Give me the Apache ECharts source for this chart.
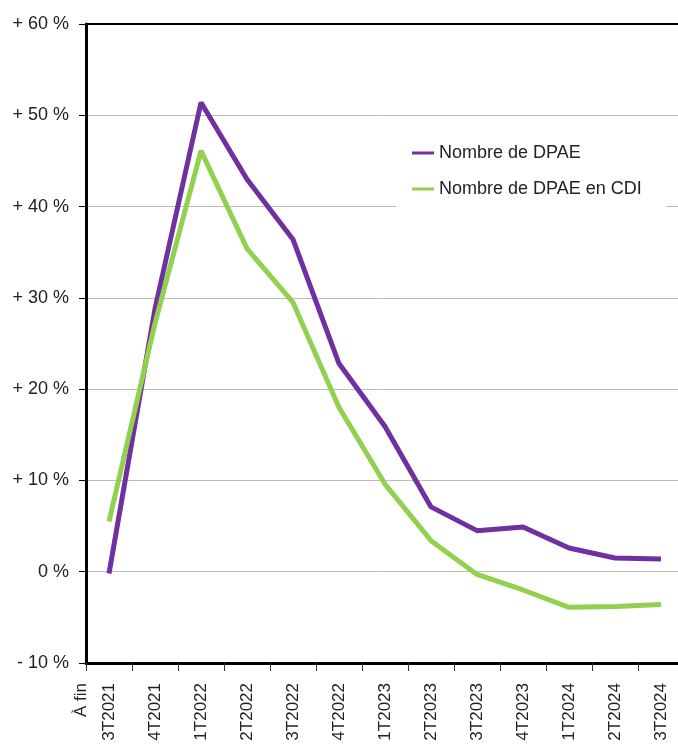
<!DOCTYPE html>
<html>
<head>
<meta charset="utf-8">
<script src="https://cdn.jsdelivr.net/npm/echarts@6/dist/echarts.min.js"></script>
<style>html,body{margin:0;padding:0;background:#fff}#c{width:678px;height:744px}</style>
</head>
<body>
<div id="c"></div>
<script>
const categories = ['3T2021','4T2021','1T2022','2T2022','3T2022','4T2022','1T2023','2T2023','3T2023','4T2023','1T2024','2T2024','3T2024'];
const dpae = [-0.2, 28.8, 51.4, 43.0, 36.4, 22.8, 15.9, 7.1, 4.5, 4.9, 2.6, 1.5, 1.4];
const dpaeCdi = [5.5, 27.2, 46.1, 35.4, 29.5, 18.0, 9.6, 3.4, -0.3, -2.0, -3.9, -3.8, -3.6];
const seriesNames = ['Nombre de DPAE', 'Nombre de DPAE en CDI'];
const startLabel = 'À fin';

const chart = echarts.init(document.getElementById('c'), null, {renderer: 'canvas'});
const font = '"Liberation Sans", Arial, sans-serif';
chart.setOption({
  animation: false,
  backgroundColor: '#fff',
  grid: {left: 86, width: 598, top: 24, bottom: 81, containLabel: false, outerBoundsMode: 'none'},
  legend: {
    orient: 'vertical',
    left: 396, top: 138,
    padding: [6, 24, 12, 16],
    backgroundColor: '#fff',
    itemGap: 18,
    itemWidth: 22, itemHeight: 3,
    icon: 'rect',
    textStyle: {fontFamily: font, fontSize: 18, color: '#222'},
    data: seriesNames
  },
  xAxis: [{
    type: 'category',
    data: categories,
    boundaryGap: true,
    axisLine: {onZero: false, lineStyle: {color: '#000', width: 3}},
    axisTick: {show: true, length: 8, inside: false, lineStyle: {color: '#333', width: 1}},
    axisLabel: {rotate: 90, fontFamily: font, fontSize: 17, color: '#222', margin: 20}
  }, {
    type: 'category',
    position: 'top',
    data: categories,
    axisLine: {onZero: false, lineStyle: {color: '#000', width: 2}},
    axisTick: {show: false},
    axisLabel: {show: false}
  }],
  yAxis: {
    type: 'value',
    min: -10, max: 60, interval: 10,
    axisLine: {show: true, lineStyle: {color: '#000', width: 3}},
    axisTick: {show: true, length: 7, lineStyle: {color: '#000', width: 1}},
    splitLine: {show: true, lineStyle: {color: '#bbb', width: 1}},
    axisLabel: {
      fontFamily: font, fontSize: 18, color: '#222', margin: 17,
      formatter: v => v > 0 ? '+ ' + v + ' %' : (v < 0 ? '- ' + Math.abs(v) + ' %' : '0 %')
    }
  },
  graphic: [{
    type: 'text',
    x: 81, y: 683,
    rotation: Math.PI / 2,
    style: {text: startLabel, font: '17px ' + font, fill: '#222', align: 'right', verticalAlign: 'middle'}
  }],
  series: [{
    name: seriesNames[0], type: 'line', data: dpae,
    symbol: 'none', lineStyle: {color: '#7030A0', width: 5}, itemStyle: {color: '#7030A0'}, z: 3
  }, {
    name: seriesNames[1], type: 'line', data: dpaeCdi,
    symbol: 'none', lineStyle: {color: '#92D050', width: 5}, itemStyle: {color: '#92D050'}, z: 3
  }]
});
</script>
</body>
</html>
